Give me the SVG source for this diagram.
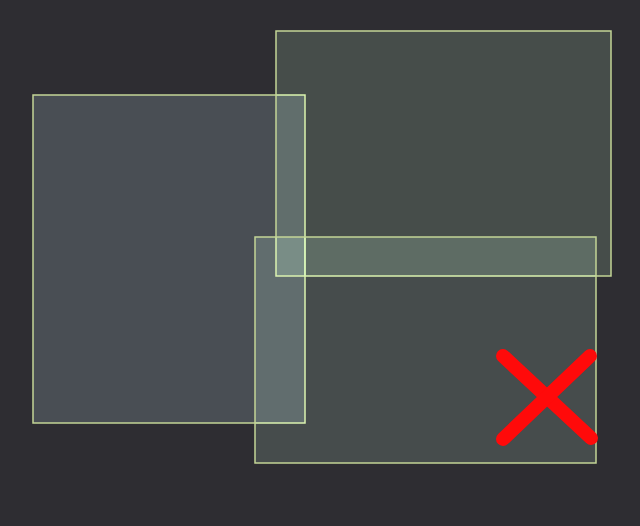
<svg xmlns="http://www.w3.org/2000/svg" width="640" height="526" viewBox="0 0 640 526">
<style>
.fill{mix-blend-mode:plus-lighter;stroke:none}
.edge{fill:none;stroke:#c3d596;stroke-width:1.5}
.x{stroke:#ff0a0a;stroke-width:14;stroke-linecap:round}
</style>
<rect width="640" height="526" fill="#2e2d32"/>
<g id="rectA">
<rect class="fill" x="33" y="95" width="272" height="328" fill="rgb(27,33,34)"/>
<rect class="edge" x="33" y="95" width="272" height="328"/>
</g>
<g id="rectB">
<rect class="fill" x="276" y="31" width="335" height="245" fill="rgb(24,32,24)"/>
<rect class="edge" x="276" y="31" width="335" height="245"/>
</g>
<g id="rectC">
<rect class="fill" x="255" y="237" width="341" height="226" fill="rgb(24,31,26)"/>
<rect class="edge" x="255" y="237" width="341" height="226"/>
</g>
<g id="cross">
<line class="x" x1="503" y1="356" x2="591" y2="438"/>
<line class="x" x1="590" y1="356" x2="503" y2="439"/>
</g>
</svg>
